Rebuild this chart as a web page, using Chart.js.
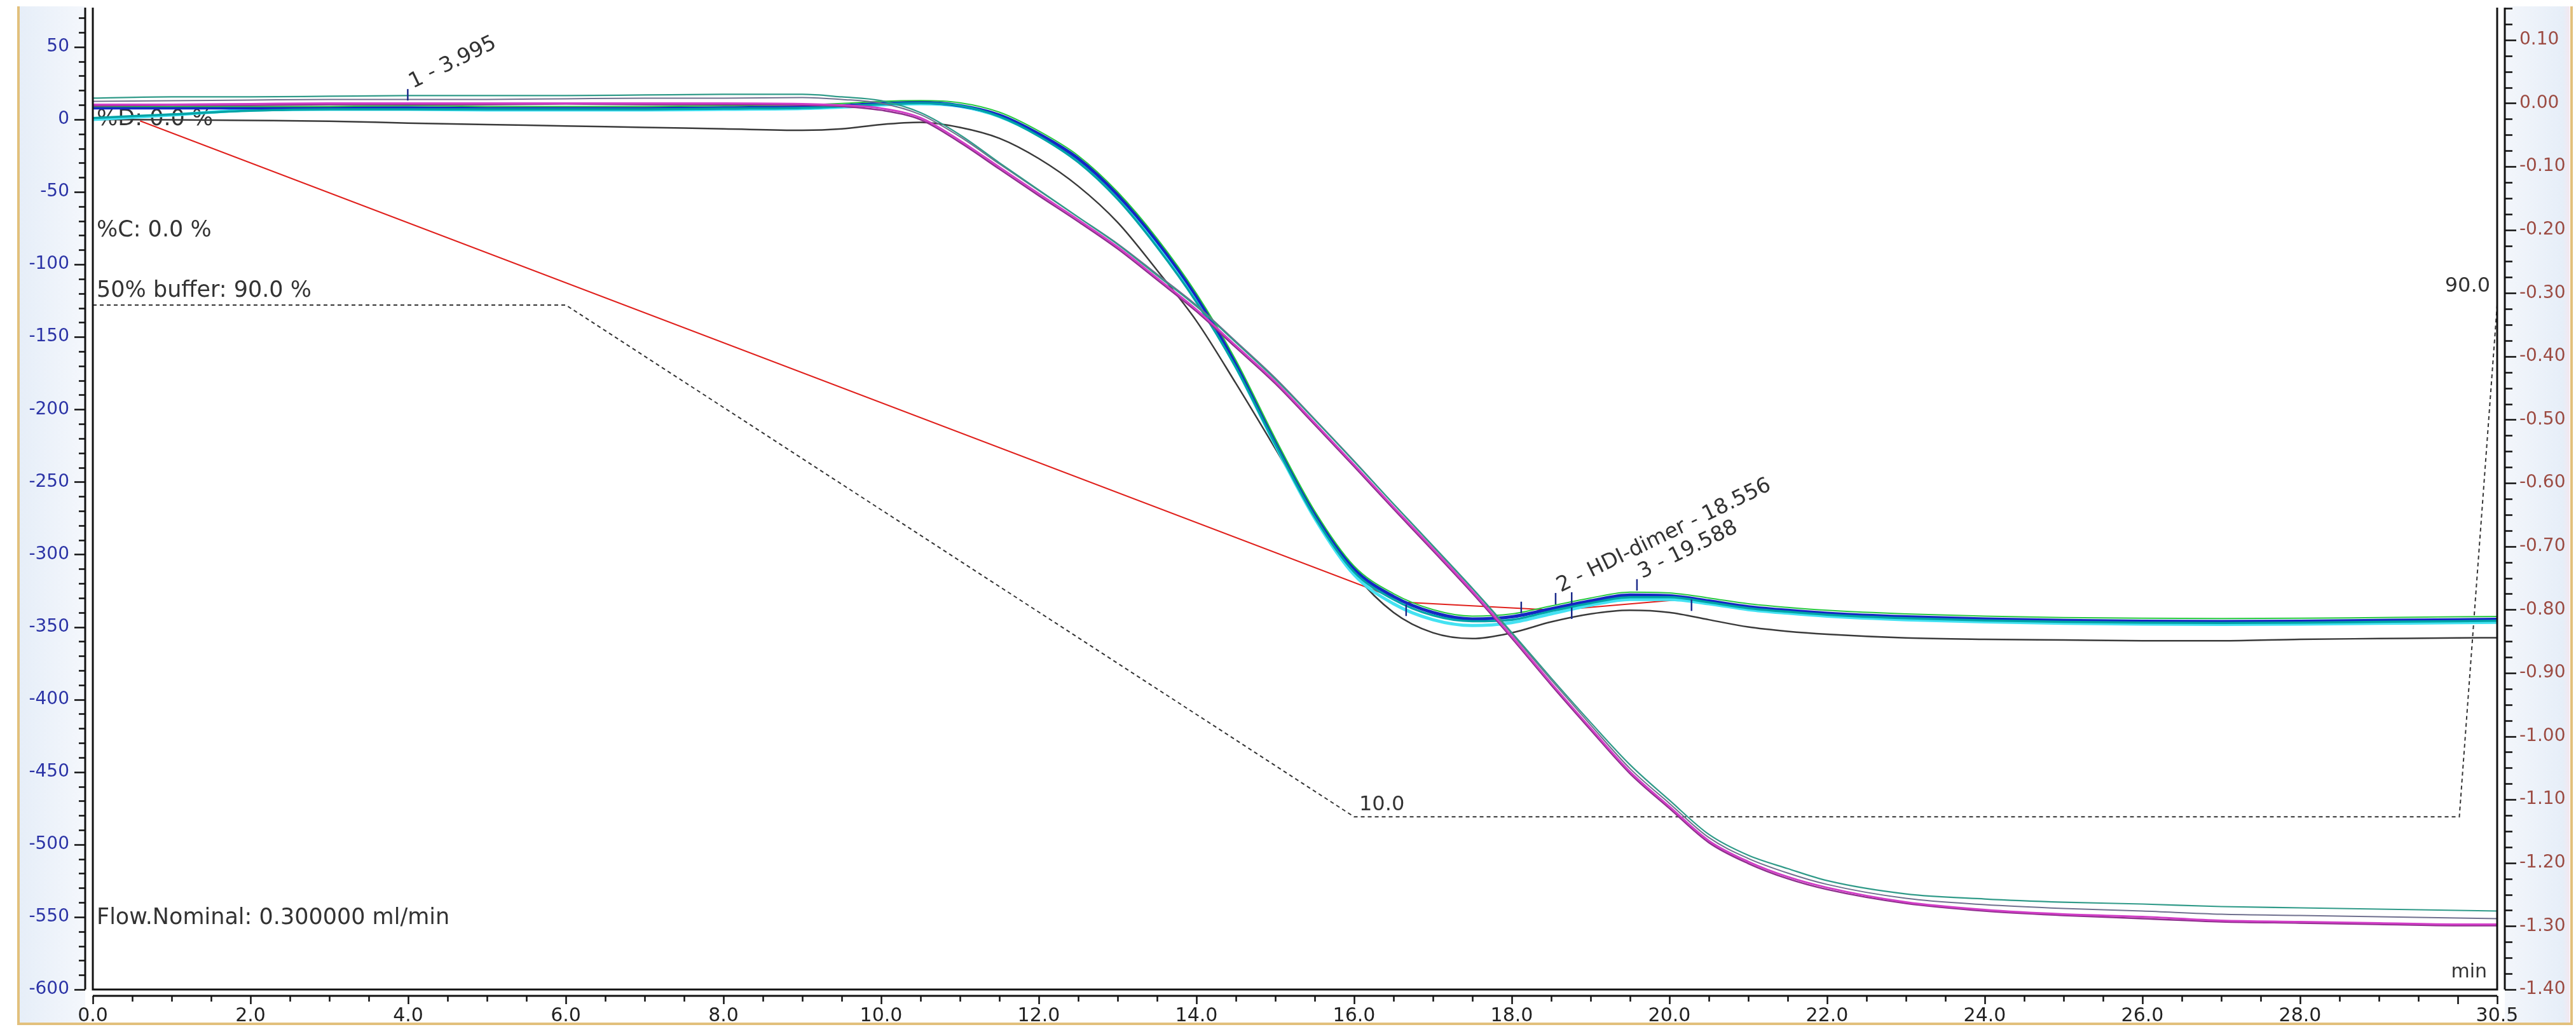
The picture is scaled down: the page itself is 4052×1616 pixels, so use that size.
<!DOCTYPE html>
<html>
<head>
<meta charset="utf-8">
<title>Chromatogram overlay</title>
<script src="https://cdn.jsdelivr.net/npm/chart.js@4.4.1/dist/chart.umd.min.js"></script>
<style>
  html, body { margin: 0; padding: 0; background: #fff; overflow: hidden; }
  canvas { display: block; }
</style>
</head>
<body>
<canvas id="chromChart" width="4052" height="1616"></canvas>
<script>
// retention time grid (min) shared by all detector traces
const minutes = [0, 1, 2, 3, 4, 5, 6, 7, 8, 9,
    9.5, 10, 10.5, 11, 11.5, 12, 12.5, 13, 13.5, 14, 14.5, 15, 15.5, 16, 16.5, 17, 17.5, 18, 18.5, 19, 19.5, 20, 20.5, 21, 21.5,
    22, 23, 24, 25, 26, 27, 28, 29, 30, 30.5];

// left axis traces
const blueTrace = [8, 8, 8, 8, 8, 7.5, 7.5, 7.5, 8, 8.5,
    9.5, 11, 11.7, 9.5, 3, -10, -27, -52, -84, -122, -168, -222, -272, -310, -329, -340, -344.5, -343, -337.5, -332, -328, -328.5, -332, -336, -338.5,
    -340.5, -343, -344.5, -345.5, -346, -346.2, -346, -345.5, -345, -344.7];
const cyanTrace = [0, 3, 6.5, 7, 7, 6.5, 6.5, 6.5, 7, 7.5,
    8.5, 10, 10.8, 9, 2, -11, -28.5, -53.5, -86, -124.5, -170.5, -224.5, -275, -314, -334, -345, -349, -347, -341, -335, -331, -331, -334, -338, -340.5,
    -342.5, -345, -346.5, -347.5, -348, -348.2, -348, -347.5, -347, -346.8];
const tealTrace = [1, 3.5, 6, 7, 7, 7, 7, 7, 7.5, 8,
    9, 10.5, 11.2, 9.5, 2, -11.5, -29.5, -55, -88, -126, -171, -224, -274, -312, -331, -342, -346, -345, -339, -333.5, -329.5, -329.5, -333, -337, -339.5,
    -341.5, -344, -345.5, -346.5, -347, -347.2, -347, -346.5, -346, -345.7];
const greenTrace = [9, 9, 9, 9, 9.5, 9, 9, 9, 9.5, 10,
    11, 12.5, 13, 11.5, 5, -8, -25, -50, -82, -120, -166, -220, -270, -308, -327, -338, -342.5, -341, -335.5, -330, -326, -326.5, -330, -334, -336.5,
    -338.5, -341, -342.5, -343.5, -344, -344.2, -344, -343.5, -343, -342.7];
const blackTrace = [0, -0.3, -0.7, -1.2, -2.5, -3.5, -4.5, -5.5, -6.5, -7.5,
    -6.5, -3.5, -2, -5.5, -13, -27, -46, -71, -104, -139, -182, -227, -273, -313, -340, -354, -358, -354, -346.5, -341, -338.5, -340, -345, -350, -353,
    -355, -357.5, -358.5, -359, -359.5, -359.5, -358.5, -358, -357.5, -357.4];

// right axis traces
const magentaTrace = [-0.002, -0.002, -0.001, 0.000, 0.000, 0.000, 0.000, 0.000, 0.000, -0.001,
    -0.003, -0.008, -0.023, -0.059, -0.101, -0.143, -0.184, -0.227, -0.276, -0.326, -0.383, -0.440, -0.505, -0.571, -0.638, -0.704, -0.771, -0.842, -0.916, -0.987, -1.056, -1.111, -1.165, -1.198, -1.222,
    -1.239, -1.262, -1.274, -1.281, -1.285, -1.291, -1.293, -1.295, -1.297, -1.297];
const purpleTrace = [-0.004, -0.003, -0.003, -0.002, -0.002, -0.002, -0.001, -0.002, -0.002, -0.003,
    -0.005, -0.011, -0.026, -0.062, -0.104, -0.146, -0.187, -0.230, -0.279, -0.329, -0.386, -0.443, -0.508, -0.574, -0.641, -0.707, -0.774, -0.845, -0.919, -0.990, -1.059, -1.114, -1.168, -1.201, -1.225,
    -1.242, -1.264, -1.276, -1.283, -1.288, -1.293, -1.295, -1.297, -1.299, -1.299];
const tealNoisyTrace = [0.008, 0.010, 0.010, 0.011, 0.012, 0.012, 0.012, 0.013, 0.014, 0.014,
    0.010, 0.004, -0.015, -0.050, -0.094, -0.137, -0.180, -0.223, -0.272, -0.321, -0.378, -0.436, -0.500, -0.566, -0.633, -0.699, -0.766, -0.836, -0.908, -0.978, -1.045, -1.101, -1.155, -1.188, -1.209,
    -1.228, -1.249, -1.257, -1.262, -1.265, -1.269, -1.271, -1.273, -1.275, -1.276];
const slateTrace = [0.003, 0.004, 0.005, 0.006, 0.006, 0.006, 0.007, 0.008, 0.008, 0.009,
    0.006, 0.000, -0.018, -0.053, -0.096, -0.138, -0.180, -0.222, -0.270, -0.319, -0.376, -0.434, -0.499, -0.565, -0.633, -0.700, -0.767, -0.838, -0.911, -0.982, -1.051, -1.106, -1.160, -1.193, -1.216,
    -1.234, -1.256, -1.266, -1.272, -1.276, -1.281, -1.283, -1.285, -1.287, -1.288];

// integration baseline (left axis)
const baselineTimes = [0.6, 16.66, 18.56, 20.28];
const baselineValues = [-1, -333, -338.5, -330.5];

// peak delimiters and names
const peakTickTimes = [3.995, 16.66, 18.12, 18.556, 18.76, 18.76, 19.588, 20.28];
const peakTickValues = [17, -338.5, -336.5, -330.5, -330, -340.5, -321, -335];
const peakNames = ['1 - 3.995', '2 - HDI-dimer - 18.556', '3 - 19.588'];
const peakTimes = [3.995, 18.556, 19.588];
const peakApex = [17, -330.5, -321];

// gradient program, % of 50% buffer
const gradientTimes = [0, 6, 16, 30.02, 30.5];
const gradientPct = [90, 90, 10, 10, 90];

// axis ticks
const xTickValues = [0, 2, 4, 6, 8, 10, 12, 14, 16, 18, 20, 22, 24, 26, 28, 30.5];
const leftTickValues = [-600, -550, -500, -450, -400, -350, -300, -250, -200, -150, -100, -50, 0, 50];
const rightTickValues = [-1.4, -1.3, -1.2, -1.1, -1.0, -0.9, -0.8, -0.7, -0.6, -0.5, -0.4, -0.3, -0.2, -0.1, 0, 0.1];

const pairs = (xs, ys) => xs.map((x, i) => ({ x: x, y: ys[i] }));

const FONT = '"DejaVu Sans", "Liberation Sans", sans-serif';
Chart.defaults.font.family = FONT;

const decor = {
    id: 'decor',
    beforeDraw(chart) {
        const { ctx, width, height, chartArea: a } = chart;
        ctx.save();
        ctx.fillStyle = '#ffffff';
        ctx.fillRect(0, 0, width, height);
        // axis strips
        let g = ctx.createLinearGradient(31, 0, a.left - 12, 0);
        g.addColorStop(0, '#e6eef8');
        g.addColorStop(1, '#f4f7fc');
        ctx.fillStyle = g;
        ctx.fillRect(31, 10, a.left - 12 - 31, height - 16);
        g = ctx.createLinearGradient(a.right + 12, 0, 4042, 0);
        g.addColorStop(0, '#f3f6fb');
        g.addColorStop(0.9, '#e6eef8');
        g.addColorStop(1, '#f3e8f0');
        ctx.fillStyle = g;
        ctx.fillRect(a.right + 12, 10, 4042 - a.right - 12, height - 16);
        // outer frame
        ctx.strokeStyle = '#e2c07c';
        ctx.lineWidth = 4;
        ctx.beginPath();
        ctx.moveTo(29, 10);
        ctx.lineTo(29, 1611);
        ctx.lineTo(4045, 1611);
        ctx.lineTo(4045, 10);
        ctx.stroke();
        ctx.restore();
    },
    beforeDatasetsDraw(chart) {
        const { ctx, chartArea: a, scales } = chart;
        const x = scales.x, y = scales.y, pct = scales.pct;
        ctx.save();
        ctx.fillStyle = '#333333';
        ctx.textBaseline = 'middle';
        ctx.font = '35px ' + FONT;
        ctx.fillText('%D: 0.0 %', a.left + 6, y.getPixelForValue(0));
        ctx.fillText('%C: 0.0 %', a.left + 6, 363);
        ctx.fillText('50% buffer: ' + gradientPct[0].toFixed(1) + ' %', a.left + 6, pct.getPixelForValue(gradientPct[0]) - 22);
        ctx.fillText('Flow.Nominal: 0.300000 ml/min', a.left + 6, 1445);
        ctx.font = '32px ' + FONT;
        ctx.fillText(gradientPct[2].toFixed(1), x.getPixelForValue(gradientTimes[2]) + 8, pct.getPixelForValue(gradientPct[2]) - 19);
        ctx.textAlign = 'right';
        ctx.fillText(gradientPct[4].toFixed(1), a.right - 11, pct.getPixelForValue(gradientPct[4]) - 29);
        ctx.font = '30px ' + FONT;
        ctx.fillText('min', a.right - 16, a.bottom - 27);
        // peak names, rotated
        ctx.textAlign = 'left';
        ctx.textBaseline = 'alphabetic';
        ctx.font = '33px ' + FONT;
        peakNames.forEach((name, i) => {
            const px = x.getPixelForValue(peakTimes[i]) + 8;
            const py = y.getPixelForValue(peakApex[i]) - 10;
            ctx.save();
            ctx.translate(px, py);
            ctx.rotate(-26 * Math.PI / 180);
            ctx.fillText(name, 0, 0);
            ctx.restore();
        });
        ctx.restore();
    },
    afterDraw(chart) {
        const { ctx, chartArea: a, scales } = chart;
        const x = scales.x, yl = scales.y, yr = scales.y2;
        ctx.save();
        ctx.strokeStyle = '#111111';
        ctx.lineWidth = 3;
        // plot frame without top edge
        ctx.beginPath();
        ctx.moveTo(a.left, a.top);
        ctx.lineTo(a.left, a.bottom);
        ctx.lineTo(a.right, a.bottom);
        ctx.lineTo(a.right, a.top);
        ctx.stroke();
        // detached axis lines
        const lx = a.left - 12, rx = a.right + 12, by = a.bottom + 10;
        ctx.beginPath();
        ctx.moveTo(lx, a.top); ctx.lineTo(lx, a.bottom);
        ctx.moveTo(rx, a.top); ctx.lineTo(rx, a.bottom);
        ctx.moveTo(a.left, by); ctx.lineTo(a.right, by);
        ctx.stroke();
        ctx.lineWidth = 2.5;
        ctx.beginPath();
        for (let v = -600; v <= 70; v += 10) {
            const py = Math.round(yl.getPixelForValue(v)) + 0.5;
            ctx.moveTo(lx, py);
            ctx.lineTo(lx - (v % 50 === 0 ? 17 : 10), py);
        }
        for (let k = -56; k <= 6; k++) {
            const py = Math.round(yr.getPixelForValue(k * 0.025)) + 0.5;
            ctx.moveTo(rx, py);
            ctx.lineTo(rx + (k % 4 === 0 ? 18 : 12), py);
        }
        for (let k = 0; k <= 61; k++) {
            const px = Math.round(x.getPixelForValue(k * 0.5)) + 0.5;
            ctx.moveTo(px, by);
            ctx.lineTo(px, by + (k % 4 === 0 || k === 61 ? 13 : 9));
        }
        ctx.stroke();
        ctx.restore();
    }
};

const lineSet = (label, data, color, width, axis, extra) => Object.assign({
    label: label,
    data: data,
    borderColor: color,
    borderWidth: width,
    pointRadius: 0,
    fill: false,
    cubicInterpolationMode: 'monotone',
    yAxisID: axis
}, extra || {});

// fixed axis sizes so the plot frame sits where the reference has it
const fitVertical = (w) => (s) => { s.width = w; s.paddingTop = 0; s.paddingBottom = 0; };
const fitHorizontal = (h) => (s) => { s.height = h; s.paddingLeft = 0; s.paddingRight = 0; };

const chart = new Chart(document.getElementById('chromChart'), {
    type: 'line',
    data: {
        datasets: [
            {
                label: 'peak marks',
                type: 'scatter',
                data: pairs(peakTickTimes, peakTickValues),
                showLine: false,
                pointStyle: 'line',
                rotation: 90,
                pointRadius: 9,
                borderColor: '#1b2a8a',
                borderWidth: 2.5,
                yAxisID: 'y'
            },
            lineSet('magenta', pairs(minutes, magentaTrace), '#d13dc6', 3, 'y2'),
            lineSet('purple', pairs(minutes, purpleTrace), '#8e2f8c', 2.5, 'y2'),
            lineSet('teal noisy', pairs(minutes, tealNoisyTrace), '#2f9a88', 2.2, 'y2'),
            lineSet('slate', pairs(minutes, slateTrace), '#6f6f8e', 2, 'y2'),
            lineSet('green', pairs(minutes, greenTrace), '#25c93e', 2, 'y'),
            lineSet('teal', pairs(minutes, tealTrace), '#00a3a6', 3.5, 'y'),
            lineSet('blue', pairs(minutes, blueTrace), '#1426c4', 5, 'y'),
            lineSet('cyan', pairs(minutes, cyanTrace), '#44e2f2', 5, 'y'),
            lineSet('black', pairs(minutes, blackTrace), '#3a3a3a', 2.5, 'y'),
            lineSet('baseline', pairs(baselineTimes, baselineValues), '#e0201c', 2, 'y', { cubicInterpolationMode: 'default', tension: 0 }),
            lineSet('gradient', pairs(gradientTimes, gradientPct), '#333333', 2, 'pct', { cubicInterpolationMode: 'default', tension: 0, borderDash: [6, 5] })
        ]
    },
    options: {
        responsive: false,
        devicePixelRatio: 1,
        animation: false,
        events: [],
        layout: { padding: { top: 12, left: 0, right: 0, bottom: 0 } },
        plugins: {
            legend: { display: false },
            tooltip: { enabled: false }
        },
        scales: {
            x: {
                type: 'linear',
                position: 'bottom',
                min: 0,
                max: 30.5,
                afterBuildTicks: (s) => { s.ticks = xTickValues.map(v => ({ value: v })); },
                afterFit: fitHorizontal(59),
                grid: { display: false, drawTicks: false },
                border: { display: false },
                ticks: {
                    autoSkip: false,
                    maxRotation: 0,
                    padding: 24,
                    color: '#222222',
                    font: { size: 30 },
                    callback: (v) => Number(v).toFixed(1)
                }
            },
            y: {
                type: 'linear',
                position: 'left',
                min: -600,
                max: 77.1,
                afterBuildTicks: (s) => { s.ticks = leftTickValues.map(v => ({ value: v })); },
                afterFit: fitVertical(146),
                grid: { display: false, drawTicks: false },
                border: { display: false },
                ticks: {
                    autoSkip: false,
                    padding: 37,
                    color: '#2b33a6',
                    font: { size: 28 },
                    callback: (v) => String(Math.round(v))
                }
            },
            y2: {
                type: 'linear',
                position: 'right',
                min: -1.40,
                max: 0.151,
                afterBuildTicks: (s) => { s.ticks = rightTickValues.map(v => ({ value: v })); },
                afterFit: fitVertical(124),
                grid: { display: false, drawTicks: false },
                border: { display: false },
                ticks: {
                    autoSkip: false,
                    padding: 35,
                    color: '#9c4b42',
                    font: { size: 28 },
                    callback: (v) => (Math.abs(v) < 1e-9 ? 0 : v).toFixed(2)
                }
            },
            pct: {
                type: 'linear',
                display: false,
                min: -17.0,
                max: 136.5
            }
        }
    },
    plugins: [decor]
});
</script>
</body>
</html>
